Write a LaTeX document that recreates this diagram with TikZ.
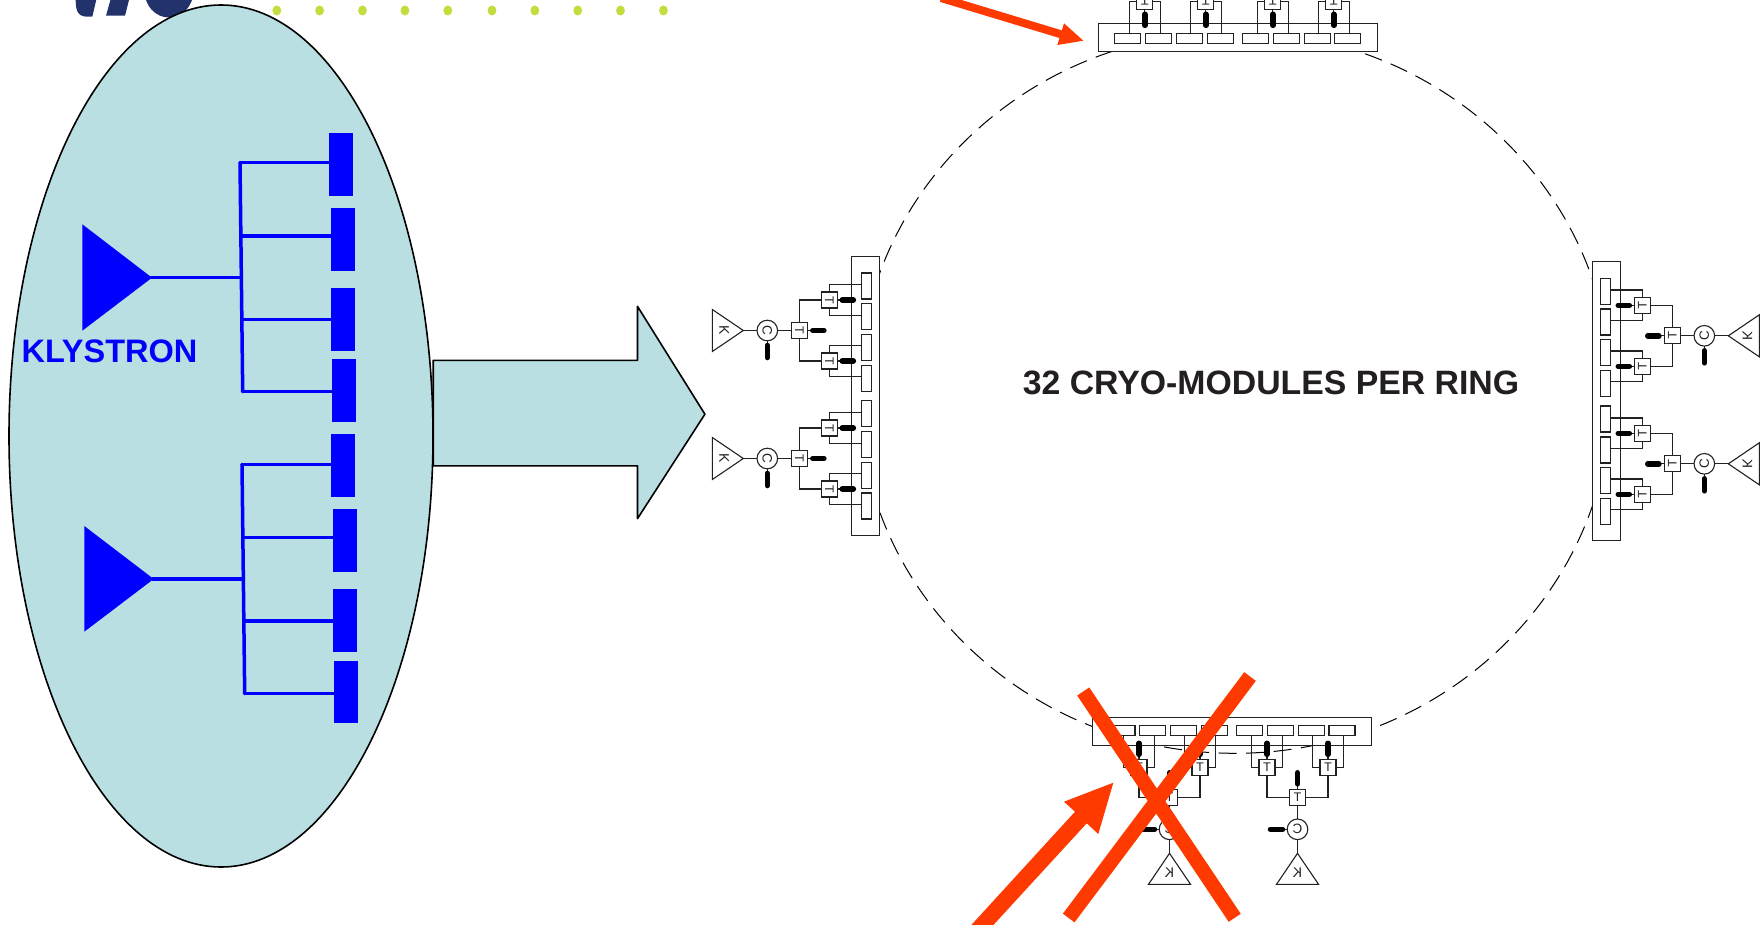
\documentclass[tikz,border=0pt]{standalone}
\usepackage{fontspec}
\usepackage{graphicx}
\setmainfont{Liberation Sans}
\usetikzlibrary{calc}
\definecolor{teal}{HTML}{B9DFE2}
\definecolor{kblue}{HTML}{0000FF}
\definecolor{redarrow}{HTML}{FF3A00}
\definecolor{logoblue}{HTML}{22336B}
\definecolor{dotgreen}{HTML}{C4DC3C}
\definecolor{wire}{HTML}{222222}
\definecolor{ink}{HTML}{231F20}
\tikzset{
  klyrect/.style={fill=kblue,draw=none,minimum width=24.3pt,minimum height=62.8pt,inner sep=0pt,outer sep=0pt},
  feed/.style={draw=kblue,line width=3.5pt,line cap=round},
  shell/.style={fill=teal,draw=black,line width=1.6pt,line join=round},
  ringline/.style={draw=black,line width=1pt,dash pattern=on 18pt off 9.5pt},
  modbox/.style={draw=wire,fill=white,line width=1.1pt,minimum width=279pt,minimum height=28pt,inner sep=0pt,outer sep=0pt,transform shape},
  cavity/.style={draw=wire,fill=white,line width=1.1pt,minimum width=26pt,minimum height=10pt,inner sep=0pt,outer sep=0pt,transform shape},
  tbox/.style={draw=wire,fill=white,line width=1.1pt,minimum size=16pt,inner sep=0pt,outer sep=0pt,font=\fontsize{12.5}{12.5}\selectfont,text=wire,transform shape},
  cbox/.style={circle,draw=wire,fill=white,line width=1.1pt,minimum size=20.6pt,inner sep=0pt,outer sep=0pt,font=\fontsize{13.5}{13.5}\selectfont,text=wire,transform shape},
  klabel/.style={inner sep=0pt,outer sep=0pt,font=\fontsize{14}{14}\selectfont,text=wire,transform shape},
  wireline/.style={draw=wire,line width=1.1pt},
  pill/.style={draw=black,line width=5.6pt,line cap=round},
  pics/module/.style={code={
    \begin{scope}[x=1pt,y=1pt]
      \node[modbox] (box) at (0,14) {};
      \foreach \n/\p in {1/-110,2/-79.3,3/-48.7,4/-17.7,5/17.7,6/48.7,7/79.3,8/110}
        \node[cavity] (cav\n) at (\p,13) {};
      \foreach \g/\b in {A/-62.5,B/65.5}{
        \node[tbox] (big\g) at (\b,80) {\rotatebox{180}{T}};
        \node[tbox] (sa\g) at ({\b-30.5},50) {\rotatebox{180}{T}};
        \node[tbox] (sb\g) at ({\b+30.5},50) {\rotatebox{180}{T}};
        \draw[wireline] (big\g.west) -- ++(-22.5,0) -- (sa\g.north);
        \draw[wireline] (big\g.east) -- ++(22.5,0) -- (sb\g.north);
        \foreach \s in {sa\g,sb\g}{
          \draw[wireline] (\s.west) -- ++(-7.3,0) -- ++(0,-32);
          \draw[wireline] (\s.east) -- ++(7.3,0) -- ++(0,-32);
          \draw[wireline] (\s.south) -- ++(0,-5);
          \draw[pill] (\s.south) ++(0,-5) -- ++(0,-11);
        }
        \draw[wireline] (big\g.south) -- ++(0,-5);
        \draw[pill] (big\g.south) ++(0,-5.5) -- ++(0,-11);
        \node[cbox] (circ\g) at (\b,112) {\rotatebox{#1}{C}};
        \draw[wireline] (big\g.north) -- (circ\g.south);
        \draw[wireline] (circ\g.west) -- ++(-5,0);
        \draw[pill] (circ\g.west) ++(-4.7,0) -- ++(-12,0);
        \coordinate (tip\g) at (\b,136);
        \draw[wireline,line join=miter] (tip\g) -- ++(21,31) -- ++(-42,0) -- cycle;
        \draw[wireline] (circ\g.north) -- (tip\g);
        \node[klabel] (kl\g) at (\b,155) {\rotatebox{#1}{K}};
      }
    \end{scope}
  }}
}
\begin{document}
\begin{tikzpicture}[x=1pt,y=-1pt]
\useasboundingbox (0,0) rectangle (1760,925);
\clip (0,0) rectangle (1760,925);
\fill[white] (0,0) rectangle (1760,925);

% logo fragments
\fill[logoblue] (75.7,-2) .. controls (75.7,8) and (76,16.5) .. (87,16.7) -- (92.3,16.7) -- (96.7,-2) -- cycle;
\fill[logoblue] (111,-2) -- (106,15.7) -- (125,15.7) -- (129.5,-2) -- cycle;
\fill[logoblue] (169,-9) ellipse [x radius=24.5,y radius=26.5];

% dots
\foreach \x in {276.8,319.6,362.5,404.9,447.8,492,534.8,577.7,620.5,663.4}
  \fill[dotgreen] (\x,10.5) ellipse [x radius=4.4,y radius=5];

% big arrow and ellipse
\draw[shell] (433.2,360.3) -- (637.5,360.3) -- (637.5,306.4) -- (704.9,414.2) -- (637.5,518.6) -- (637.5,465.8) -- (433.2,465.8) -- cycle;
\draw[shell] (221,436) ellipse [x radius=212,y radius=431];

% klystron rectangles
\node[klyrect] (r1) at (341.2,164.2) {};
\node[klyrect] (r2) at (343.2,239.6) {};
\node[klyrect] (r3) at (343.2,319.4) {};
\node[klyrect] (r4) at (344.2,390.5) {};
\node[klyrect] (r5) at (343.2,465.6) {};
\node[klyrect] (r6) at (345.2,540.8) {};
\node[klyrect] (r7) at (345.2,620.6) {};
\node[klyrect] (r8) at (346.2,692) {};

% klystrons
\fill[kblue] (82.3,224.3) -- (152,277.7) -- (82.3,330.7) -- cycle;
\coordinate (tipa) at (151,277.7);
\coordinate (ja) at (240,162.7);
\coordinate (jb) at (241.5,277.7);
\coordinate (jc) at (240.8,236);
\coordinate (jd) at (242,319.3);
\coordinate (je) at (242.7,391.7);
\draw[feed] (ja) -- (je);
\draw[feed] (tipa) -- (jb);
\draw[feed] (ja) -- (ja -| r1.west);
\draw[feed] (jc) -- (jc -| r2.west);
\draw[feed] (jd) -- (jd -| r3.west);
\draw[feed] (je) -- (je -| r4.west);

\fill[kblue] (84.3,526) -- (153.7,579) -- (84.3,631.7) -- cycle;
\coordinate (tipb) at (152.7,579);
\coordinate (ka) at (242,464.3);
\coordinate (kb) at (243.3,579);
\coordinate (kc) at (242.8,537.7);
\coordinate (kd) at (244,621);
\coordinate (ke) at (244.7,693.7);
\draw[feed] (ka) -- (ke);
\draw[feed] (tipb) -- (kb);
\draw[feed] (ka) -- (ka -| r5.west);
\draw[feed] (kc) -- (kc -| r6.west);
\draw[feed] (kd) -- (kd -| r7.west);
\draw[feed] (ke) -- (ke -| r8.west);

\node[anchor=base,inner sep=0pt,text=kblue,font=\fontsize{32.5}{32.5}\selectfont\bfseries] (klabelmain) at (109.5,362.5) {KLYSTRON};

% ring and modules
\draw[ringline] (1235,392.5) ellipse [x radius=376.4,y radius=360.8];
\pic (top) at (1237.8,51.3) {module=180};
\pic[yscale=-1] (bottom) at (1232,717.3) {module=180};
\pic[rotate=90] (left) at (879.3,396) {module=180};
\pic[xscale=-1,rotate=90] (right) at (1592.3,401.3) {module=0};

\node[anchor=base,inner sep=0pt,text=ink,font=\fontsize{33.8}{33.8}\selectfont\bfseries] (title) at (1271,394.5) {32 CRYO-MODULES PER RING};

% red marks
\coordinate (ta) at (941,-2);
\coordinate (tb) at (1062,34.6);
\draw[draw=redarrow,line width=8pt] (ta) -- (tb);
\fill[redarrow] (1083.3,40.7) -- (1064,23.3) -- (1057.3,45) -- cycle;
\fill[redarrow] (1113.3,782.7) -- (1064,801.7) -- (1075,811.7) -- (953,945) -- (975,945) -- (1086.7,823.3) -- (1098.3,834) -- cycle;
\coordinate (xa) at (1083.2,691.5);
\coordinate (xb) at (1234.7,917.8);
\coordinate (xc) at (1250,676.5);
\coordinate (xd) at (1068.7,918);
\draw[draw=redarrow,line width=14.5pt] (xa) -- (xb);
\draw[draw=redarrow,line width=14.5pt] (xc) -- (xd);
\end{tikzpicture}
\end{document}
